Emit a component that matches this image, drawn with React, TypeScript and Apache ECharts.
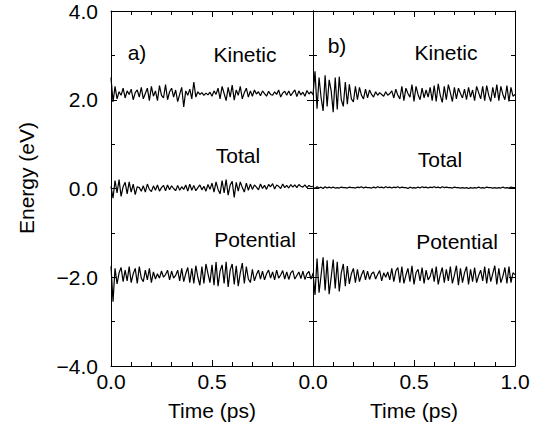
import React, { useEffect, useRef } from "react";
import * as echarts from "echarts";

// Sampling step of the simulated trajectories (ps)
const TIME_STEP = 0.01;

// Panel a) energies (eV)
const kineticA = [
  2.50, 1.95, 2.30, 2.02, 2.18, 2.10, 2.26, 2.04, 2.20, 2.12,
  2.24, 2.00, 2.16, 2.22, 2.06, 2.28, 2.02, 2.14, 2.26, 1.98,
  2.30, 2.08, 2.20, 1.98, 2.32, 2.10, 2.04, 2.34, 2.00, 2.18,
  2.26, 2.06, 2.22, 1.96, 2.12, 2.28, 1.84, 2.20, 2.10, 2.24,
  2.02, 2.40, 2.06, 2.18, 2.12, 2.16, 2.10, 2.15, 2.11, 2.17,
  2.08, 2.20, 2.12, 2.26, 2.02, 2.30, 2.14, 1.98, 2.28, 2.06,
  2.33, 1.99, 2.22, 2.10, 2.30, 2.02, 2.16, 2.26, 2.06, 2.20,
  2.08, 2.22, 2.13, 2.18, 2.09, 2.20, 2.14, 2.08, 2.19, 2.12,
  2.10, 2.18, 2.12, 2.22, 2.06, 2.15, 2.19, 2.10, 2.20, 2.09,
  2.16, 2.22, 2.07, 2.20, 2.11, 2.17, 2.08, 2.21, 2.13, 2.18, 2.12,
];
const totalA = [
  0.05, -0.22, 0.18, -0.10, 0.20, -0.18, 0.04, 0.14, -0.12, 0.15,
  -0.08, 0.10, -0.14, 0.04, 0.02, -0.06, 0.06, -0.08, 0.10, -0.02,
  -0.07, 0.06, -0.04, 0.08, -0.06, 0.02, 0.07, -0.05, 0.08, -0.03,
  0.06, 0.00, -0.05, 0.07, -0.04, 0.04, -0.02, 0.08, -0.06, 0.10,
  -0.04, 0.07, -0.05, 0.02, 0.08, -0.03, 0.05, -0.06, 0.09, -0.02,
  0.12, -0.08, 0.15, -0.02, -0.12, 0.18, -0.10, 0.20, -0.15, 0.08,
  0.16, -0.20, 0.14, -0.06, 0.15, 0.02, -0.08, 0.12, -0.04, 0.10,
  -0.02, 0.08, 0.03, -0.03, 0.10, 0.00, 0.07, -0.02, 0.09, 0.04,
  0.11, -0.01, 0.08, 0.05, 0.00, 0.10, 0.02, 0.07, 0.01, 0.09,
  0.03, 0.08, 0.02, 0.09, 0.05, 0.03, 0.08, 0.02, 0.07, 0.04, 0.05,
];
const potentialA = [
  -1.75, -2.55, -1.80, -2.15, -1.90, -1.78, -2.10, -1.84, -2.08, -1.76,
  -2.12, -1.92, -1.80, -2.14, -1.76, -2.02, -2.10, -1.84, -2.06, -1.80,
  -2.12, -1.88, -2.04, -1.92, -2.02, -1.86, -2.00, -1.94, -1.84, -2.06,
  -1.86, -2.02, -1.96, -1.84, -2.08, -1.80, -2.10, -1.92, -1.78, -2.12,
  -1.80, -2.14, -1.74, -2.00, -2.18, -1.76, -2.14, -1.70, -1.92, -2.12,
  -1.72, -2.18, -1.66, -2.20, -1.86, -1.72, -2.14, -1.65, -2.22, -1.84,
  -1.70, -2.16, -1.74, -2.20, -1.90, -1.68, -2.14, -1.76, -2.04, -2.12,
  -1.82, -2.08, -1.94, -1.84, -2.04, -1.86, -2.06, -1.92, -1.84, -2.02,
  -1.88, -2.06, -1.84, -2.02, -1.95, -1.85, -2.04, -1.88, -2.05, -1.90,
  -1.85, -2.04, -1.96, -1.88, -2.03, -1.86, -2.05, -1.92, -1.87, -2.04, -1.92,
];

// Panel b) energies (eV)
const kineticB = [
  2.10, 2.64, 1.80, 2.50, 2.05, 1.75, 2.55, 1.85, 2.45, 2.20,
  1.72, 2.50, 1.78, 2.52, 2.00, 1.85, 2.40, 1.90, 2.35, 2.02,
  1.95, 2.30, 2.00, 2.28, 2.10, 2.02, 2.24, 2.04, 2.22, 2.12,
  2.06, 2.18, 2.10, 2.16, 2.12, 2.08, 2.18, 2.10, 2.14, 2.20,
  2.04, 2.24, 2.10, 2.02, 2.30, 1.98, 2.26, 2.14, 2.06, 2.34,
  1.96, 2.30, 2.12, 2.00, 2.26, 2.04, 2.22, 2.06, 2.28, 1.98,
  2.32, 1.96, 2.36, 2.10, 1.94, 2.30, 2.00, 2.34, 2.16, 1.96,
  2.28, 2.02, 2.26, 2.14, 2.04, 2.24, 2.00, 2.28, 2.06, 2.22,
  1.98, 2.30, 2.16, 2.02, 2.30, 1.98, 2.32, 2.10, 1.96, 2.28,
  2.04, 2.34, 1.98, 2.30, 2.12, 2.00, 2.32, 1.96, 2.28, 2.08, 2.12,
];
const totalB = [
  0.03, 0.00, 0.04, 0.01, 0.03, 0.00, 0.04, 0.01, 0.03, 0.01,
  0.03, 0.01, 0.02, 0.01, 0.03, 0.02, 0.02, 0.01, 0.03, 0.02,
  0.02, 0.01, 0.03, 0.02, 0.04, 0.01, 0.03, 0.02, 0.02, 0.01,
  0.03, 0.01, 0.04, 0.02, 0.03, 0.01, 0.04, 0.02, 0.03, 0.01,
  0.03, 0.02, 0.04, 0.01, 0.03, 0.02, 0.02, 0.00, 0.03, 0.01,
  0.02, 0.01, 0.03, 0.01, 0.04, 0.02, 0.03, 0.01, 0.03, 0.02,
  0.04, 0.02, 0.03, 0.01, 0.04, 0.02, 0.03, 0.02, 0.02, 0.01,
  0.03, 0.02, 0.02, 0.01, 0.02, 0.01, 0.02, 0.00, 0.02, 0.01,
  0.02, 0.01, 0.03, 0.01, 0.02, 0.01, 0.03, 0.02, 0.02, 0.01,
  0.02, 0.01, 0.02, 0.01, 0.03, 0.01, 0.02, 0.01, 0.03, 0.02, 0.02,
];
const potentialB = [
  -1.90, -2.40, -1.58, -2.35, -1.95, -1.55, -2.30, -1.62, -2.38, -2.00,
  -1.60, -2.25, -1.65, -2.32, -1.90, -1.70, -2.20, -1.75, -2.15, -1.92,
  -1.80, -2.12, -1.82, -2.10, -1.95, -1.84, -2.06, -1.86, -2.05, -1.92,
  -1.88, -2.04, -1.94, -1.85, -2.08, -1.90, -2.00, -1.88, -2.06, -1.80,
  -2.10, -1.86, -1.78, -2.12, -1.76, -2.14, -1.95, -1.80, -2.10, -1.74,
  -2.16, -1.90, -1.82, -2.08, -1.78, -2.14, -1.84, -2.06, -1.98, -1.80,
  -2.10, -1.76, -2.16, -1.94, -1.78, -2.12, -1.82, -2.08, -1.76, -2.14,
  -1.95, -1.74, -2.18, -1.80, -2.12, -1.90, -1.76, -2.16, -1.82, -2.10,
  -1.78, -2.12, -1.96, -1.84, -2.08, -1.76, -2.14, -1.80, -2.10, -1.92,
  -1.74, -2.16, -1.80, -2.12, -1.98, -1.78, -2.14, -1.76, -2.12, -1.90, -1.94,
];

const X_TICKS = [0, 0.5, 1.0];
const Y_TICKS = [-4, -2, 0, 2, 4];

const FONT = "Liberation Sans, Arial, Helvetica, sans-serif";

const toPairs = (vals: number[]) =>
  vals.map((v, i) => [Math.round(i * TIME_STEP * 100) / 100, v]);

const fmt = (v: number) => {
  const s = Math.abs(v).toFixed(1);
  return v < 0 ? "\u2212" + s : s;
};

function xAxisDef(gridIndex: number, position: "top" | "bottom", showLabels: boolean, hideMax: boolean) {
  return {
    type: "value",
    gridIndex,
    position,
    min: X_TICKS[0],
    max: X_TICKS[X_TICKS.length - 1],
    interval: 0.5,
    axisLine: { show: true, onZero: false, lineStyle: { color: "#000", width: 1 } },
    axisTick: { show: true, inside: true, length: 6, lineStyle: { color: "#000", width: 1 } },
    minorTick: { show: true, splitNumber: 5, length: 4, lineStyle: { color: "#000", width: 1 } },
    splitLine: { show: false },
    minorSplitLine: { show: false },
    axisLabel: {
      show: showLabels,
      color: "#000",
      fontSize: 21,
      fontFamily: FONT,
      margin: 5,
      showMaxLabel: !hideMax,
      formatter: (v: number) => fmt(v),
    },
  };
}

function yAxisDef(gridIndex: number, position: "left" | "right", showLabels: boolean) {
  return {
    type: "value",
    gridIndex,
    position,
    min: Y_TICKS[0],
    max: Y_TICKS[Y_TICKS.length - 1],
    interval: 2,
    axisLine: { show: true, onZero: false, lineStyle: { color: "#000", width: 1 } },
    axisTick: { show: true, inside: true, length: 6, lineStyle: { color: "#000", width: 1 } },
    minorTick: { show: true, splitNumber: 2, length: 4, lineStyle: { color: "#000", width: 1 } },
    splitLine: { show: false },
    minorSplitLine: { show: false },
    axisLabel: {
      show: showLabels,
      color: "#000",
      fontSize: 21,
      fontFamily: FONT,
      margin: 13,
      formatter: (v: number) => fmt(v),
    },
  };
}

function lineSeries(vals: number[], xi: number, yi: number) {
  return {
    type: "line",
    xAxisIndex: xi,
    yAxisIndex: yi,
    data: toPairs(vals),
    showSymbol: false,
    symbol: "none",
    silent: true,
    lineStyle: { color: "#000", width: 1.2 },
  };
}

const txt = (text: string, x: number, y: number, extra: any = {}) => ({
  type: "text",
  x,
  y,
  silent: true,
  ...extra,
  style: {
    text,
    fill: "#000",
    font: `21px ${FONT}`,
    textAlign: "center",
    textVerticalAlign: "middle",
    verticalAlign: "middle",
  },
});

export default function App() {
  const ref = useRef<HTMLDivElement>(null);
  useEffect(() => {
    if (!ref.current) return;
    const chart = echarts.init(ref.current, null, { renderer: "svg" });
    chart.setOption({
      animation: false,
      backgroundColor: "#fff",
      grid: [
        { left: 111, right: 230, top: 11, bottom: 64, containLabel: false, outerBoundsMode: "none" },
        { left: 313, right: 28, top: 11, bottom: 64, containLabel: false, outerBoundsMode: "none" },
      ],
      xAxis: [
        xAxisDef(0, "bottom", true, true),
        xAxisDef(0, "top", false, false),
        xAxisDef(1, "bottom", true, false),
        xAxisDef(1, "top", false, false),
      ],
      yAxis: [
        yAxisDef(0, "left", true),
        yAxisDef(0, "right", false),
        yAxisDef(1, "left", false),
        yAxisDef(1, "right", false),
      ],
      series: [
        lineSeries(kineticA, 0, 0),
        lineSeries(totalA, 0, 0),
        lineSeries(potentialA, 0, 0),
        lineSeries(kineticB, 2, 2),
        lineSeries(totalB, 2, 2),
        lineSeries(potentialB, 2, 2),
      ],
      graphic: [
        txt("a)", 137, 52),
        txt("Kinetic", 245, 54),
        txt("b)", 337, 45),
        txt("Kinetic", 446, 52),
        txt("Total", 238, 155),
        txt("Total", 440, 159),
        txt("Potential", 255, 239),
        txt("Potential", 457, 241),
        txt("Time (ps)", 212, 410),
        txt("Time (ps)", 414, 410),
        txt("Energy (eV)", 26, 178, { rotation: Math.PI / 2 }),
      ],
    });
    return () => chart.dispose();
  }, []);
  return (
    <div
      ref={ref}
      style={{ position: "fixed", left: 0, top: 0, width: 543, height: 430, background: "#fff" }}
    />
  );
}
